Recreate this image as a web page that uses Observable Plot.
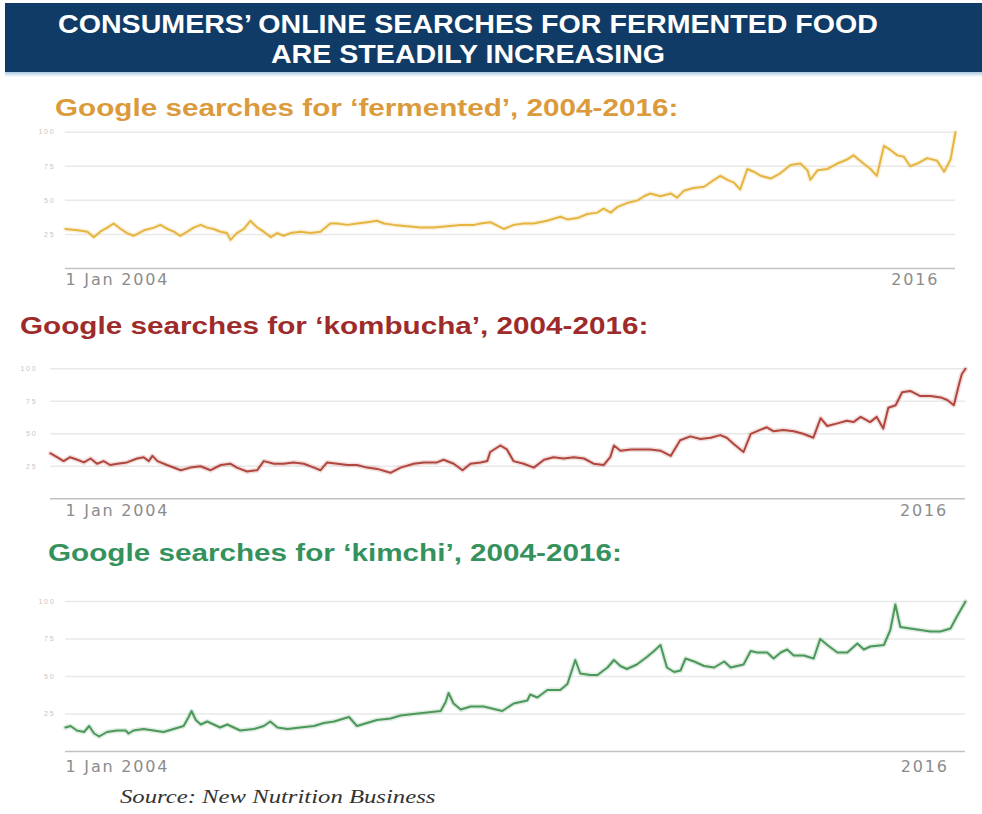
<!DOCTYPE html>
<html><head><meta charset="utf-8">
<script src="https://cdn.jsdelivr.net/npm/d3@7"></script>
<script src="https://cdn.jsdelivr.net/npm/@observablehq/plot@0.6"></script>
<style>
html,body{margin:0;padding:0;background:#fff;}
#page{position:relative;width:982px;height:814px;overflow:hidden;font-family:"Liberation Sans",Arial,sans-serif;background:#fff;}
#header{position:absolute;left:5px;top:3px;width:977px;height:69px;background:#103b66;}
#strip{position:absolute;left:5px;top:72px;width:977px;height:5px;background:linear-gradient(#a9c8e2,#ffffff);}
.htitle{position:absolute;left:0;top:6px;width:926px;text-align:center;color:#fff;font-weight:bold;font-size:26px;line-height:30px;white-space:nowrap;transform:scaleX(1.1);}
.ptitle{position:absolute;font-weight:bold;font-size:23px;line-height:23px;transform-origin:0 0;transform:scaleX(1.29);white-space:nowrap;z-index:2;}
.panel{position:absolute;left:0;z-index:1;}
#source{position:absolute;left:120px;top:788px;font-family:"Liberation Serif","Times New Roman",serif;font-style:italic;font-size:19px;line-height:18px;color:#333;transform-origin:0 0;transform:scaleX(1.3);white-space:nowrap;}
</style></head>
<body>
<div id="page">
  <div id="header">
    <div class="htitle">CONSUMERS’ ONLINE SEARCHES FOR FERMENTED FOOD<br>ARE STEADILY INCREASING</div>
  </div>
  <div id="strip"></div>
  <div class="ptitle" style="left:55px;top:97px;color:#db9a3b">Google searches for ‘fermented’, 2004-2016:</div>
  <div class="ptitle" style="left:20px;top:315px;color:#9e2b2b">Google searches for ‘kombucha’, 2004-2016:</div>
  <div class="ptitle" style="left:48px;top:542px;color:#35925c">Google searches for ‘kimchi’, 2004-2016:</div>
  <div class="panel" id="p1" style="top:120px"></div>
  <div class="panel" id="p2" style="top:350px"></div>
  <div class="panel" id="p3" style="top:580px"></div>
  <div id="source">Source: New Nutrition Business</div>
</div>
<script>
// ---- data (decimal year, Google Trends index 0-100) ----
const yTicks = [25, 50, 75, 100];
const startLabel = "1 Jan 2004";
const endTick = 2016;

const fermentedYears = [2004.00,2004.17,2004.31,2004.40,2004.49,2004.59,2004.68,2004.78,2004.87,2004.96,2005.11,2005.25,2005.34,2005.44,2005.53,2005.62,2005.72,2005.81,2005.91,2006.00,2006.09,2006.19,2006.28,2006.33,2006.42,2006.52,2006.61,2006.71,2006.80,2006.90,2006.99,2007.08,2007.18,2007.32,2007.46,2007.60,2007.74,2007.84,2007.98,2008.12,2008.26,2008.40,2008.50,2008.64,2008.83,2009.01,2009.20,2009.39,2009.58,2009.77,2009.86,2010.00,2010.19,2010.33,2010.47,2010.61,2010.80,2010.99,2011.09,2011.23,2011.37,2011.51,2011.60,2011.70,2011.79,2011.93,2012.08,2012.17,2012.26,2012.40,2012.55,2012.64,2012.73,2012.87,2013.02,2013.16,2013.25,2013.35,2013.44,2013.53,2013.63,2013.72,2013.82,2013.96,2014.10,2014.24,2014.38,2014.48,2014.52,2014.62,2014.76,2014.90,2015.04,2015.13,2015.27,2015.37,2015.46,2015.56,2015.65,2015.75,2015.84,2015.93,2016.03,2016.17,2016.31,2016.41,2016.50,2016.57];
const fermentedValues = [29,28,27,23,27,30,33,29,26,24,28,30,32,29,27,24,27,30,32,30,29,27,26,21,26,29,35,30,27,23,26,24,26,27,26,27,33,33,32,33,34,35,33,32,31,30,30,31,32,32,33,34,29,32,33,33,35,38,36,37,40,41,44,41,45,48,50,53,55,53,55,52,57,59,60,65,68,65,63,58,73,71,68,66,70,76,77,72,65,72,73,77,80,83,77,73,68,90,87,83,82,75,77,81,79,71,80,100];

const kombuchaYears = [2004.00,2004.09,2004.18,2004.27,2004.37,2004.46,2004.55,2004.64,2004.73,2004.82,2004.92,2005.05,2005.19,2005.28,2005.35,2005.40,2005.47,2005.60,2005.79,2005.92,2006.06,2006.20,2006.34,2006.47,2006.56,2006.70,2006.84,2006.93,2007.07,2007.20,2007.34,2007.48,2007.62,2007.71,2007.80,2007.94,2008.08,2008.21,2008.35,2008.49,2008.67,2008.81,2008.99,2009.13,2009.31,2009.40,2009.54,2009.66,2009.77,2009.91,2010.00,2010.04,2010.18,2010.27,2010.36,2010.50,2010.64,2010.78,2010.91,2011.05,2011.19,2011.33,2011.46,2011.60,2011.69,2011.74,2011.83,2011.97,2012.10,2012.24,2012.38,2012.52,2012.65,2012.79,2012.93,2013.07,2013.20,2013.29,2013.39,2013.52,2013.62,2013.75,2013.84,2013.93,2014.07,2014.21,2014.34,2014.48,2014.58,2014.67,2014.81,2014.94,2015.03,2015.13,2015.26,2015.35,2015.44,2015.51,2015.61,2015.70,2015.81,2015.95,2016.09,2016.23,2016.32,2016.41,2016.48,2016.52,2016.57];
const kombuchaValues = [35,32,29,32,30,28,31,27,29,26,27,28,31,32,29,33,29,26,22,24,25,22,26,27,24,21,22,29,27,27,28,27,24,22,28,27,26,26,24,23,20,24,27,28,28,30,27,22,27,28,29,36,41,38,29,27,24,30,32,31,32,31,27,26,32,41,37,38,38,38,37,33,45,48,46,47,49,47,42,36,50,53,55,52,53,52,50,47,62,56,58,60,59,63,59,63,54,70,72,82,83,79,79,78,76,72,88,96,100];

const kimchiYears = [2004.00,2004.07,2004.16,2004.26,2004.33,2004.40,2004.47,2004.58,2004.72,2004.84,2004.88,2004.95,2005.09,2005.23,2005.37,2005.51,2005.65,2005.72,2005.76,2005.82,2005.89,2005.98,2006.07,2006.16,2006.26,2006.35,2006.44,2006.63,2006.77,2006.86,2006.96,2007.10,2007.28,2007.47,2007.61,2007.75,2007.89,2007.96,2008.07,2008.21,2008.35,2008.54,2008.68,2008.86,2009.05,2009.24,2009.31,2009.35,2009.42,2009.52,2009.66,2009.84,2010.10,2010.26,2010.45,2010.49,2010.59,2010.73,2010.91,2011.01,2011.12,2011.19,2011.33,2011.43,2011.57,2011.66,2011.75,2011.84,2011.98,2012.12,2012.22,2012.31,2012.40,2012.50,2012.59,2012.66,2012.78,2012.92,2013.06,2013.20,2013.29,2013.38,2013.47,2013.57,2013.66,2013.80,2013.89,2013.99,2014.08,2014.17,2014.31,2014.45,2014.54,2014.64,2014.78,2014.92,2015.06,2015.15,2015.24,2015.43,2015.52,2015.59,2015.66,2015.80,2015.94,2016.08,2016.22,2016.36,2016.45,2016.57];
const kimchiValues = [16,17,14,13,17,12,10,13,14,14,12,14,15,14,13,15,17,23,27,21,18,20,18,16,18,16,14,15,17,20,16,15,16,17,19,20,22,23,17,19,21,22,24,25,26,27,33,39,32,28,30,30,27,32,34,38,36,41,41,45,61,52,51,51,56,61,57,55,58,63,67,71,56,53,54,62,60,57,56,60,56,57,58,67,66,66,62,66,68,64,64,62,75,71,66,66,72,68,70,71,81,98,83,82,81,80,80,82,90,100];

const xDomain = [2004, 2016.57];

function makePanel(el, o) {
  const data = o.years.map((t, i) => ({t, v: o.values[i]}));
  const axisStyle = {tickSize: 0, tickPadding: o.xPad, fontSize: 16, fontFamily: "'DejaVu Sans', sans-serif", color: "#8c8c8c", label: null};
  const svg = Plot.plot({
    width: 982, height: o.height,
    marginLeft: o.mL, marginRight: o.mR, marginTop: o.mT, marginBottom: o.mB,
    style: {background: "transparent", fontFamily: "'Liberation Sans', Arial, sans-serif", overflow: "visible", letterSpacing: "1.8px"},
    x: {domain: xDomain},
    y: {domain: [0, 100]},
    marks: [
      Plot.gridY(yTicks, {stroke: "#e9e9e9", strokeOpacity: 1, strokeWidth: 1.5}),
      Plot.ruleY([0], {stroke: "#c2c2c2", strokeWidth: 1.5}),
      Plot.axisY(yTicks, {tickSize: 0, tickPadding: o.yPad, fontSize: 7, color: "#c6c6c6", label: null}),
      Plot.line(data, {x: "t", y: "v", stroke: o.color, strokeWidth: 5, strokeOpacity: 0.18}),
      Plot.line(data, {x: "t", y: "v", stroke: o.color, strokeWidth: 2}),
      Plot.axisX([xDomain[0]], {...axisStyle, tickFormat: () => startLabel, textAnchor: "start", dx: o.startDx}),
      Plot.axisX([endTick], {...axisStyle, tickFormat: d => String(d)})
    ]
  });
  document.getElementById(el).appendChild(svg);
}

makePanel("p1", {years: fermentedYears, values: fermentedValues, color: "#e6b540",
  height: 175, mL: 65, mR: 27, mT: 11.7, mB: 27, yPad: 10, xPad: 5, startDx: 0});
makePanel("p2", {years: kombuchaYears, values: kombuchaValues, color: "#b0463e",
  height: 175, mL: 50, mR: 17, mT: 18.3, mB: 26.7, yPad: 13, xPad: 6, startDx: 15});
makePanel("p3", {years: kimchiYears, values: kimchiValues, color: "#4b985a",
  height: 200, mL: 65, mR: 17, mT: 21, mB: 29, yPad: 10, xPad: 9, startDx: 0});
</script>
</body></html>
